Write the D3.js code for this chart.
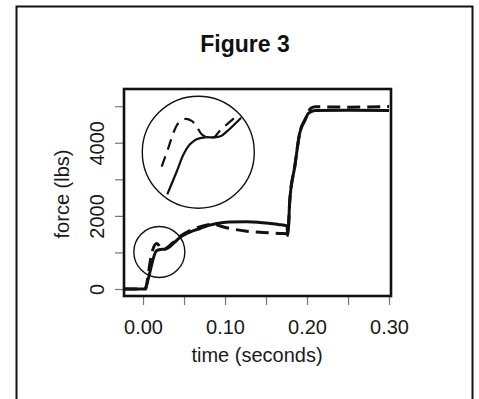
<!DOCTYPE html>
<html>
<head>
<meta charset="utf-8">
<script src="https://cdn.jsdelivr.net/npm/d3@7"></script>
<style>
  body { margin: 0; background: #fff; }
  svg { display: block; font-family: "Liberation Sans", Arial, Helvetica, sans-serif; }
</style>
</head>
<body>
<svg id="chart" width="479" height="399"></svg>
<script>
// solid curve (time in s, force in lbs)
var solidTime  = [-0.023, 0.001, 0.0165, 0.021, 0.027, 0.033, 0.039, 0.046, 0.0533, 0.06, 0.0695, 0.08, 0.09, 0.105, 0.1265, 0.14, 0.155, 0.165, 0.1755, 0.1765, 0.179, 0.185, 0.191, 0.1976, 0.2016, 0.21, 0.25, 0.30];
var solidForce = [0, 0, 1045, 1080, 1090, 1160, 1288, 1425, 1518, 1585, 1655, 1740, 1792, 1830, 1836, 1825, 1792, 1765, 1726, 1470, 2430, 3342, 4258, 4622, 4805, 4880, 4890, 4885];

// dashed curve
var dashedTime  = [-0.023, 0.0035, 0.0052, 0.0106, 0.0167, 0.0207, 0.0232, 0.03, 0.035, 0.045, 0.0573, 0.07, 0.0857, 0.095, 0.106, 0.1265, 0.1467, 0.167, 0.1755, 0.1765, 0.179, 0.185, 0.191, 0.1976, 0.2016, 0.205, 0.21, 0.25, 0.30];
var dashedForce = [0, 0, 230, 970, 1244, 1151, 1060, 1140, 1240, 1440, 1600, 1705, 1773, 1715, 1655, 1581, 1545, 1518, 1510, 1470, 2430, 3342, 4258, 4640, 4850, 4950, 4985, 4975, 4990];

// magnified sketch shown in the big circle
var insetSolidTime   = [0.00476, 0.00934, 0.01256, 0.01583, 0.0191, 0.02315, 0.02802, 0.03129, 0.03373, 0.04022, 0.0425];
var insetSolidForce  = [628, 834, 987, 1084, 1130, 1148, 1148, 1163, 1199, 1315, 1360];
var insetDashedTime  = [0.00202, 0.00524, 0.00768, 0.01012, 0.01339, 0.01666, 0.0191, 0.02154, 0.02476, 0.02802, 0.02998, 0.03861];
var insetDashedForce = [880, 1048, 1185, 1276, 1315, 1297, 1245, 1176, 1144, 1154, 1199, 1342];

// circles: [time, force] of centres
var zoomSpot  = [0.0199, 1012];
var zoomInset = [0.0674, 3742];

var xTicks = [0, 0.05, 0.10, 0.15, 0.20, 0.25, 0.30];
var xLabelled = [0, 0.10, 0.20, 0.30];
var yTicks = [0, 1000, 2000, 3000, 4000, 5000];
var yLabelled = [0, 2000, 4000];

var svg = d3.select("#chart");
var plotLeft = 124, plotRight = 391, plotTop = 89, plotBottom = 296;

var x = d3.scaleLinear().domain([-0.0232, 0.3024]).range([plotLeft, plotRight]);
var y = d3.scaleLinear().domain([-192, 5471]).range([plotBottom, plotTop]);

// outer frame
svg.append("rect")
  .attr("x", 16.5).attr("y", 6.5)
  .attr("width", 456).attr("height", 420)
  .attr("fill", "none").attr("stroke", "#111").attr("stroke-width", 2);

svg.append("text")
  .attr("x", 245).attr("y", 52)
  .attr("text-anchor", "middle")
  .attr("font-size", 23).attr("font-weight", "bold")
  .attr("fill", "#111")
  .text("Figure 3");

// x axis
var xAxis = svg.append("g")
  .attr("transform", "translate(0," + (plotBottom + 1) + ")")
  .call(d3.axisBottom(x).tickValues(xTicks).tickSize(8).tickPadding(15)
    .tickFormat(function (d) { return xLabelled.some(function (v) { return Math.abs(v - d) < 1e-9; }) ? d3.format(".2f")(d) : ""; }));
xAxis.select(".domain").remove();
xAxis.selectAll(".tick line").attr("stroke", "#777").attr("stroke-width", 1.2);
xAxis.selectAll(".tick text").attr("font-size", 20).attr("fill", "#1a1a1a")
  .attr("font-family", "Liberation Sans, Arial, sans-serif");

// y axis, labels turned like R does
var yAxis = svg.append("g")
  .attr("transform", "translate(" + (plotLeft - 1) + ",0)")
  .call(d3.axisLeft(y).tickValues(yTicks).tickSize(8)
    .tickFormat(function (d) { return yLabelled.indexOf(d) >= 0 ? d : ""; }));
yAxis.select(".domain").remove();
yAxis.selectAll(".tick line").attr("stroke", "#777").attr("stroke-width", 1.2);
yAxis.selectAll(".tick text")
  .attr("transform", "rotate(-90)")
  .attr("x", 0).attr("y", -19).attr("dy", 0)
  .attr("text-anchor", "middle")
  .attr("font-size", 20).attr("fill", "#1a1a1a")
  .attr("font-family", "Liberation Sans, Arial, sans-serif");

svg.append("text")
  .attr("transform", "translate(69,194) rotate(-90)")
  .attr("text-anchor", "middle")
  .attr("font-size", 20).attr("fill", "#1a1a1a")
  .text("force (lbs)");

svg.append("text")
  .attr("x", 257).attr("y", 362)
  .attr("text-anchor", "middle")
  .attr("font-size", 20).attr("fill", "#1a1a1a")
  .text("time (seconds)");

// clip for the curves
svg.append("clipPath").attr("id", "plotClip")
  .append("rect").attr("x", plotLeft).attr("y", plotTop)
  .attr("width", plotRight - plotLeft).attr("height", plotBottom - plotTop);

var line = d3.line()
  .x(function (d) { return x(d[0]); })
  .y(function (d) { return y(d[1]); })
  .curve(d3.curveMonotoneX);

var solid = solidTime.map(function (t, i) { return [t, solidForce[i]]; });
var dashed = dashedTime.map(function (t, i) { return [t, dashedForce[i]]; });

var plot = svg.append("g").attr("clip-path", "url(#plotClip)");

plot.append("path").datum(dashed)
  .attr("d", line)
  .attr("fill", "none").attr("stroke", "#111").attr("stroke-width", 3)
  .attr("stroke-dasharray", "13,7");

plot.append("path").datum(solid)
  .attr("d", line)
  .attr("fill", "none").attr("stroke", "#111").attr("stroke-width", 3);

// small circle round the start, big one with the blow-up
var smallR = 25.5, bigR = 56;
var sx = x(zoomSpot[0]), sy = y(zoomSpot[1]);
var bx = x(zoomInset[0]), by = y(zoomInset[1]);

svg.append("circle").attr("cx", sx).attr("cy", sy).attr("r", smallR)
  .attr("fill", "none").attr("stroke", "#111").attr("stroke-width", 1.4);
svg.append("circle").attr("cx", bx).attr("cy", by).attr("r", bigR)
  .attr("fill", "none").attr("stroke", "#111").attr("stroke-width", 1.4);

var zoomX = 2.5, zoomY = 3.0;
var ix = d3.scaleLinear().domain(x.domain())
  .range(x.range().map(function (v) { return bx + (v - sx) * zoomX; }));
var iy = d3.scaleLinear().domain(y.domain())
  .range(y.range().map(function (v) { return by + (v - sy) * zoomY; }));

svg.append("clipPath").attr("id", "insetClip")
  .append("circle").attr("cx", bx).attr("cy", by).attr("r", bigR - 1);

var insetLine = d3.line()
  .x(function (d) { return ix(d[0]); })
  .y(function (d) { return iy(d[1]); })
  .curve(d3.curveCatmullRom);

var inset = svg.append("g").attr("clip-path", "url(#insetClip)");

inset.append("path")
  .datum(insetDashedTime.map(function (t, i) { return [t, insetDashedForce[i]]; }))
  .attr("d", insetLine)
  .attr("fill", "none").attr("stroke", "#111").attr("stroke-width", 2.2)
  .attr("stroke-dasharray", "11,7");

inset.append("path")
  .datum(insetSolidTime.map(function (t, i) { return [t, insetSolidForce[i]]; }))
  .attr("d", insetLine)
  .attr("fill", "none").attr("stroke", "#111").attr("stroke-width", 2.2);

// box drawn last so it sits over the curve ends
svg.append("rect")
  .attr("x", plotLeft).attr("y", plotTop)
  .attr("width", plotRight - plotLeft).attr("height", plotBottom - plotTop)
  .attr("fill", "none").attr("stroke", "#111").attr("stroke-width", 2.6);
</script>
</body>
</html>
